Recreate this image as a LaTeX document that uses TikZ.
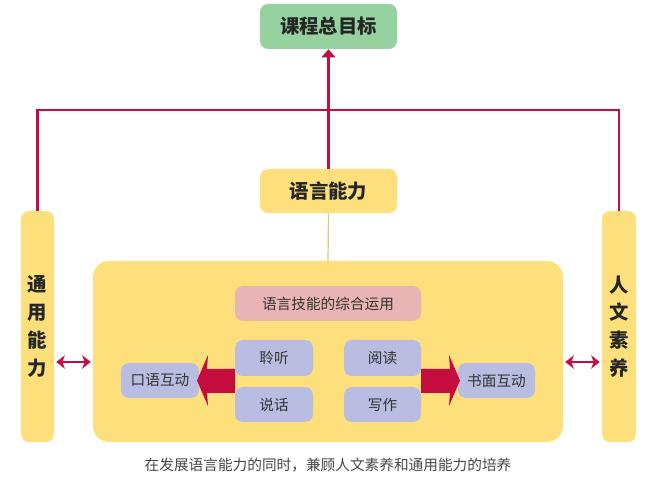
\documentclass[tikz,border=0pt]{standalone}
\usepackage{fontspec}
\setmainfont{Noto Sans CJK SC}
\usetikzlibrary{arrows.meta}
\definecolor{goalgreen}{HTML}{95D2A0}
\definecolor{boxyellow}{HTML}{FDE07C}
\definecolor{skillpink}{HTML}{E8B5B4}
\definecolor{skillblue}{HTML}{B9BDE2}
\definecolor{linkred}{HTML}{C40C3E}
\definecolor{txtgray}{HTML}{333333}
\begin{document}
\begin{tikzpicture}[x=0.75pt,y=-0.75pt,
  box/.style={rounded corners=6pt,inner sep=0pt,text=txtgray},
  title/.style={box,text=black!85,font=\fontsize{14.5pt}{20.8pt}\selectfont\bfseries},
  small/.style={box,fill=skillblue,font=\fontsize{11pt}{13pt}\selectfont},
  link/.style={linkred,line width=1.8pt}]
\useasboundingbox (0,0) rectangle (657,484);
\node [title,fill=goalgreen,minimum width=102.75pt,minimum height=33.75pt] (goal) at (328.5,26.5) {课程总目标};
\node [title,fill=boxyellow,minimum width=102.75pt,minimum height=33pt] (lang) at (328.5,191) {语言能力};
\node [title,fill=boxyellow,minimum width=24.75pt,minimum height=173.25pt,align=center] (lbar) at (37.5,326.5) {通\\用\\能\\力};
\node [title,fill=boxyellow,minimum width=25.5pt,minimum height=173.25pt,align=center] (rbar) at (619,326.5) {人\\文\\素\\养};
\node [box,fill=boxyellow,rounded corners=12pt,minimum width=352.5pt,minimum height=135.75pt] (core) at (328,351.5) {};
\node [small,fill=skillpink,minimum width=139.5pt,minimum height=26.25pt] (skill) at (328,303.5) {语言技能的综合运用};
\node [small,minimum width=58.5pt,minimum height=27pt] (listen) at (274,358) {聆听};
\node [small,minimum width=58.5pt,minimum height=26.25pt] (speak) at (274,404.5) {说话};
\node [small,minimum width=57.75pt,minimum height=27pt] (read) at (382.5,358) {阅读};
\node [small,minimum width=57.75pt,minimum height=26.25pt] (write) at (382.5,404.5) {写作};
\node [small,minimum width=58.5pt,minimum height=26.25pt] (oral) at (160,380.5) {口语互动};
\node [small,minimum width=57.75pt,minimum height=26.25pt] (written) at (496.5,380.5) {书面互动};
\node [text=txtgray!90,font=\fontsize{11pt}{13pt}\selectfont] (note) at (328,465) {在发展语言能力的同时，兼顾人文素养和通用能力的培养};
\coordinate (join) at (328.5,110);
\coordinate (side) at (0,362);
\draw [boxyellow!80!black!60!boxyellow,line width=0.9pt] (lang.south) -- (core.north);
\draw [link] (lbar.north) |- (join) -| (rbar.north);
\draw [link,-{Triangle[width=10pt,length=6pt]}] (lang.north) -- (goal.south);
\draw [link,{Stealth[width=10pt,length=6.5pt]}-{Stealth[width=10pt,length=6.5pt]}] ([xshift=1.5pt]lbar.east |- side) -- ([xshift=-1.5pt]core.west |- side);
\draw [link,{Stealth[width=10pt,length=6.5pt]}-{Stealth[width=10pt,length=6.5pt]}] ([xshift=1.5pt]core.east |- side) -- ([xshift=-1.5pt]rbar.west |- side);
\fill [linkred] (197,380.5) -- (208,355) -- (207,369) -- (235,369) -- (235,393) -- (207,393) -- (208,406) -- cycle;
\fill [linkred] (460,380.5) -- (449,355) -- (450,369) -- (421,369) -- (421,393) -- (450,393) -- (449,406) -- cycle;
\end{tikzpicture}
\end{document}
